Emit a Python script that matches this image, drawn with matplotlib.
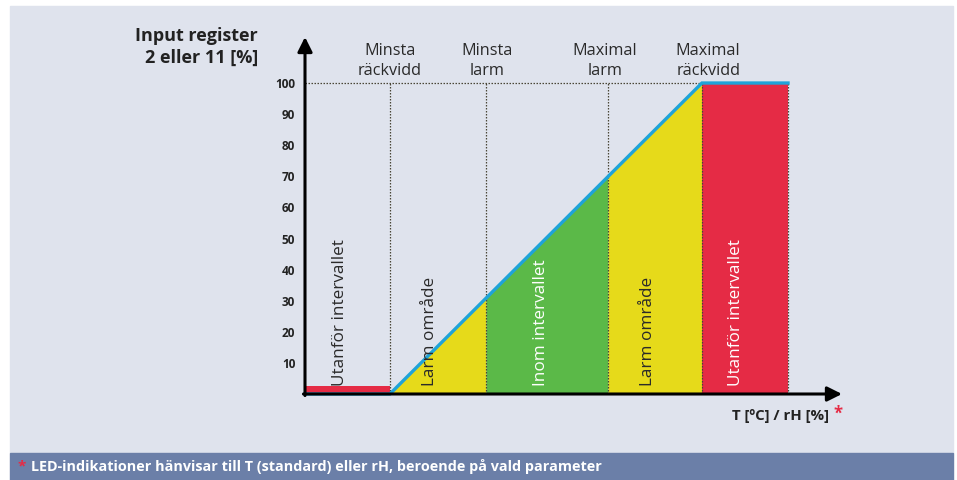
import matplotlib
matplotlib.use("Agg")
import matplotlib.pyplot as plt
from matplotlib.patches import Rectangle

plt.rcParams['font.family'] = ['Open Sans', 'DejaVu Sans']

# x-läge i % av mätområdet (0 = minsta räckvidd, 100 = maximal räckvidd)
x_left = -27.2
x_min_range = 0
x_min_alarm = 30.8
x_max_alarm = 69.9
x_max_range = 100
x_right = 127.6
x_arrow = 144.9
y_arrow = 114.8

# utsignal (input register) längs x
signal_x = [x_left, x_min_range, x_max_range, x_right]
signal_y = [0, 0, 100, 100]
low_bar_height = 2.7

y_ticks = [10, 20, 30, 40, 50, 60, 70, 80, 90, 100]

top_labels = ["Minsta\nräckvidd", "Minsta\nlarm", "Maximal\nlarm", "Maximal\nräckvidd"]
top_label_x = [0, 31, 69, 102]

zone_labels = ["Utanför intervallet", "Larm område", "Inom intervallet", "Larm område", "Utanför intervallet"]
zone_label_x = [-16, 12.8, 48.4, 82.7, 110.9]
zone_label_col = ["#2a2a2a", "#2a2a2a", "white", "#2a2a2a", "white"]

bg = "#dfe3ed"
banner = "#6b7fa8"
red = "#e52b45"
yellow = "#e6da1a"
green = "#5bb948"
blue = "#1fa3d9"
dots = "#4a4636"

W, H = 957, 480
fig = plt.figure(figsize=(W / 100, H / 100), dpi=100, facecolor="white")

def px(x0, y0, x1, y1):
    # pixelruta (uppifrån) -> figurkoordinater
    return (x0 / W, 1 - y1 / H, (x1 - x0) / W, (y1 - y0) / H)

r = px(10, 6, 953, 453)
fig.patches.append(Rectangle(r[:2], r[2], r[3], transform=fig.transFigure, color=bg, zorder=-2))
r = px(10, 453, 953, 480)
fig.patches.append(Rectangle(r[:2], r[2], r[3], transform=fig.transFigure, color=banner, zorder=-2))

ax = fig.add_axes(px(305, 37, 842, 394))
ax.set_facecolor("none")
ax.set_xlim(x_left, x_arrow)
ax.set_ylim(0, y_arrow)
for s in ax.spines.values():
    s.set_visible(False)

# fält
def line_at(x):
    return max(0, min(100, x))

ax.fill_between([x_min_range, x_min_alarm], [0, 0], [line_at(x_min_range), line_at(x_min_alarm)], color=yellow, lw=0, zorder=1)
ax.fill_between([x_min_alarm, x_max_alarm], [0, 0], [line_at(x_min_alarm), line_at(x_max_alarm)], color=green, lw=0, zorder=1)
ax.fill_between([x_max_alarm, x_max_range], [0, 0], [line_at(x_max_alarm), line_at(x_max_range)], color=yellow, lw=0, zorder=1)
ax.bar(x_max_range, 100, width=x_right - x_max_range, align="edge", color=red, lw=0, zorder=1)
ax.bar(x_left, low_bar_height, width=x_min_range - x_left, align="edge", color=red, lw=0, zorder=1)

# prickade hjälplinjer
for xv in [x_min_range, x_min_alarm, x_max_alarm, x_max_range, x_right]:
    ax.plot([xv, xv], [0, 100], color=dots, lw=0.9, ls=(0, (1.2, 1.2)), zorder=2)
ax.plot([x_left, x_max_range], [100, 100], color=dots, lw=0.9, ls=(0, (1.2, 1.2)), zorder=2)

ax.plot(signal_x, signal_y, color=blue, lw=2.4, zorder=3, solid_joinstyle="miter", clip_on=False)

# axlar med pilar
ax.annotate("", xy=(x_arrow, 0), xytext=(x_left - 0.5, 0),
            arrowprops=dict(arrowstyle="-|>", color="black", lw=2.2, mutation_scale=22, shrinkA=0, shrinkB=0),
            annotation_clip=False, zorder=4)
ax.annotate("", xy=(x_left, y_arrow), xytext=(x_left, -0.5),
            arrowprops=dict(arrowstyle="-|>", color="black", lw=2.2, mutation_scale=22, shrinkA=0, shrinkB=0),
            annotation_clip=False, zorder=4)

ax.set_xticks([])
ax.set_yticks(y_ticks)
ax.set_yticklabels([str(v) for v in y_ticks], fontsize=8.5, fontweight="bold", color="#222222")
ax.tick_params(axis="y", length=0, pad=7)

for lab, xv in zip(top_labels, top_label_x):
    ax.text(xv, 107.0, lab, ha="center", va="center", fontsize=11.7, color="#2a2a2a", linespacing=1.32)

for lab, xv, c in zip(zone_labels, zone_label_x, zone_label_col):
    ax.text(xv, 2.6, lab, rotation=90, ha="center", va="bottom", fontsize=12.3, color=c, zorder=5)

fig.text(258 / W, 1 - 47 / H, "Input register\n2 eller 11 [%]", ha="right", va="center",
         fontsize=13, fontweight="bold", color="#222222", linespacing=1.25)

fig.text(829 / W, 1 - 416 / H, "T [ºC] / rH [%]", ha="right", va="center",
         fontsize=10.8, fontweight="bold", color="#222222")
fig.text(833 / W, 1 - 414 / H, "*", ha="left", va="center", fontsize=12, fontweight="bold", color=red)

fig.text(18 / W, 1 - 466 / H, "*", ha="left", va="center", fontsize=11, fontweight="bold", color=red)
fig.text(31 / W, 1 - 467 / H, "LED-indikationer hänvisar till T (standard) eller rH, beroende på vald parameter",
         ha="left", va="center", fontsize=10.4, fontweight="bold", color="white")

fig.savefig("out.png", dpi=100, facecolor="white")
